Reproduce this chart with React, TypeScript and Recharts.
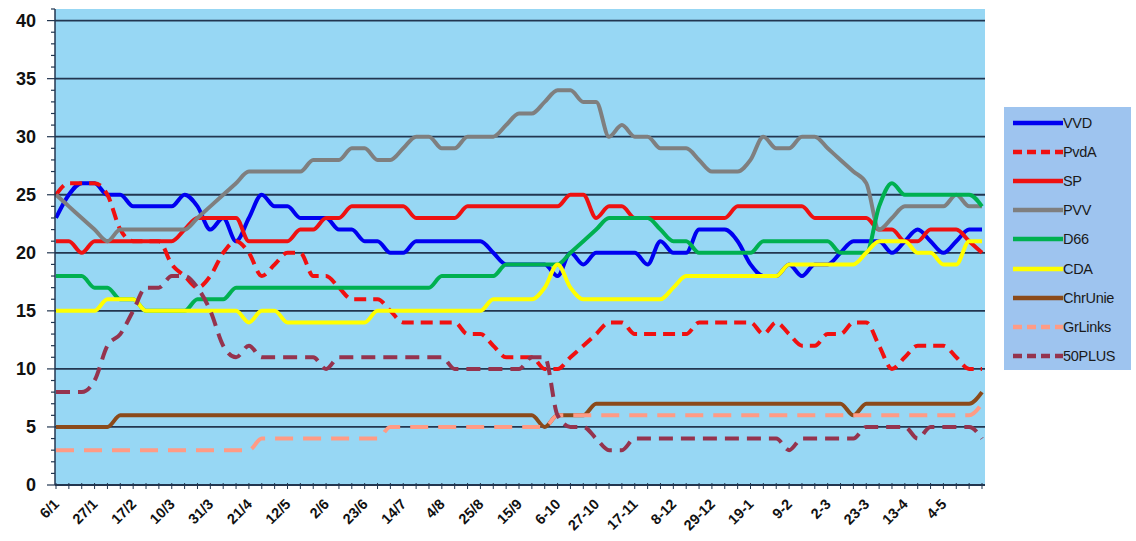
import React from 'react';
import { LineChart, Line, XAxis, YAxis, CartesianGrid, Legend, ReferenceLine } from 'recharts';

// week index 0..72, a label every third week
const tickLabels = ['6/1', '27/1', '17/2', '10/3', '31/3', '21/4', '12/5', '2/6', '23/6', '14/7', '4/8', '25/8',
  '15/9', '6-10', '27-10', '17-11', '8-12', '29-12', '19-1', '9-2', '2-3', '23-3', '13-4', '4-5'];

const vvd = [23, 25, 26, 26, 25, 25, 24, 24, 24, 24, 25, 24, 22, 23, 21, 23, 25, 24, 24, 23,
  23, 23, 22, 22, 21, 21, 20, 20, 21, 21, 21, 21, 21, 21, 20, 19, 19, 19, 19, 18,
  20, 19, 20, 20, 20, 20, 19, 21, 20, 20, 22, 22, 22, 21, 19, 18, 18, 19, 18, 19,
  19, 20, 21, 21, 21, 20, 21, 22, 21, 20, 21, 22, 22];
const pvda = [25, 26, 26, 26, 25, 22, 21, 21, 21, 19, 18, 17, 18, 20, 21, 20, 18, 19, 20, 20,
  18, 18, 17, 16, 16, 16, 15, 14, 14, 14, 14, 14, 13, 13, 12, 11, 11, 11, 10, 10,
  11, 12, 13, 14, 14, 13, 13, 13, 13, 13, 14, 14, 14, 14, 14, 13, 14, 13, 12, 12,
  13, 13, 14, 14, 12, 10, 11, 12, 12, 12, 11, 10, 10];
const sp = [21, 21, 20, 21, 21, 21, 21, 21, 21, 21, 22, 23, 23, 23, 23, 21, 21, 21, 21, 22,
  22, 23, 23, 24, 24, 24, 24, 24, 23, 23, 23, 23, 24, 24, 24, 24, 24, 24, 24, 24,
  25, 25, 23, 24, 24, 23, 23, 23, 23, 23, 23, 23, 23, 24, 24, 24, 24, 24, 24, 23,
  23, 23, 23, 23, 22, 22, 21, 21, 22, 22, 22, 21, 20];
const pvv = [25, 24, 23, 22, 21, 22, 22, 22, 22, 22, 22, 23, 24, 25, 26, 27, 27, 27, 27, 27,
  28, 28, 28, 29, 29, 28, 28, 29, 30, 30, 29, 29, 30, 30, 30, 31, 32, 32, 33, 34,
  34, 33, 33, 30, 31, 30, 30, 29, 29, 29, 28, 27, 27, 27, 28, 30, 29, 29, 30, 30,
  29, 28, 27, 26, 22, 23, 24, 24, 24, 24, 25, 24, 24];
const d66 = [18, 18, 18, 17, 17, 16, 16, 15, 15, 15, 15, 16, 16, 16, 17, 17, 17, 17, 17, 17,
  17, 17, 17, 17, 17, 17, 17, 17, 17, 17, 18, 18, 18, 18, 18, 19, 19, 19, 19, 19,
  20, 21, 22, 23, 23, 23, 23, 22, 21, 21, 20, 20, 20, 20, 20, 21, 21, 21, 21, 21,
  21, 20, 20, 20, 24, 26, 25, 25, 25, 25, 25, 25, 24];
const cda = [15, 15, 15, 15, 16, 16, 16, 15, 15, 15, 15, 15, 15, 15, 15, 14, 15, 15, 14, 14,
  14, 14, 14, 14, 14, 15, 15, 15, 15, 15, 15, 15, 15, 15, 16, 16, 16, 16, 17, 19,
  17, 16, 16, 16, 16, 16, 16, 16, 17, 18, 18, 18, 18, 18, 18, 18, 18, 19, 19, 19,
  19, 19, 19, 20, 21, 21, 21, 20, 20, 19, 19, 21, 21];
const chrUnie = [5, 5, 5, 5, 5, 6, 6, 6, 6, 6, 6, 6, 6, 6, 6, 6, 6, 6, 6, 6,
  6, 6, 6, 6, 6, 6, 6, 6, 6, 6, 6, 6, 6, 6, 6, 6, 6, 6, 5, 6,
  6, 6, 7, 7, 7, 7, 7, 7, 7, 7, 7, 7, 7, 7, 7, 7, 7, 7, 7, 7,
  7, 7, 6, 7, 7, 7, 7, 7, 7, 7, 7, 7, 8];
const grLinks = [3, 3, 3, 3, 3, 3, 3, 3, 3, 3, 3, 3, 3, 3, 3, 3, 4, 4, 4, 4,
  4, 4, 4, 4, 4, 4, 5, 5, 5, 5, 5, 5, 5, 5, 5, 5, 5, 5, 5, 6,
  6, 6, 6, 6, 6, 6, 6, 6, 6, 6, 6, 6, 6, 6, 6, 6, 6, 6, 6, 6,
  6, 6, 6, 6, 6, 6, 6, 6, 6, 6, 6, 6, 7];
const plus50 = [8, 8, 8, 9, 12, 13, 15, 17, 17, 18, 18, 17, 15, 12, 11, 12, 11, 11, 11, 11,
  11, 10, 11, 11, 11, 11, 11, 11, 11, 11, 11, 10, 10, 10, 10, 10, 10, 11, 11, 6,
  5, 5, 4, 3, 3, 4, 4, 4, 4, 4, 4, 4, 4, 4, 4, 4, 4, 3, 4, 4,
  4, 4, 4, 5, 5, 5, 5, 4, 5, 5, 5, 5, 4];

const series = [
  { key: 'VVD', values: vvd, color: '#0000F0', dash: undefined },
  { key: 'PvdA', values: pvda, color: '#F01010', dash: '12 7' },
  { key: 'SP', values: sp, color: '#EE1111', dash: undefined },
  { key: 'PVV', values: pvv, color: '#7F7F7F', dash: undefined },
  { key: 'D66', values: d66, color: '#00B050', dash: undefined },
  { key: 'CDA', values: cda, color: '#FFFF00', dash: undefined },
  { key: 'ChrUnie', values: chrUnie, color: '#8B4A1A', dash: undefined },
  { key: 'GrLinks', values: grLinks, color: '#FF9B85', dash: '18 10' },
  { key: '50PLUS', values: plus50, color: '#95334E', dash: '14 8' },
];

const data = vvd.map((_, i) => {
  const row: any = { week: i };
  series.forEach((s) => { row[s.key] = s.values[i]; });
  return row;
});

const weeks = data.map((d) => d.week);
const yTicks = Array.from({ length: 42 }, (_, i) => i);
const gridValues = [5, 10, 15, 20, 25, 30, 35, 40];

const FONT = '"Liberation Sans", Arial, sans-serif';
const AXIS = '#223650';

const YTick = ({ x, y, payload }: any) => {
  const v = payload.value;
  const major = v % 5 === 0;
  return (
    <g>
      <line x1={x - (major ? 8 : 4)} x2={x} y1={y} y2={y} stroke={AXIS} strokeWidth={1.2} />
      {major && v <= 40 && (
        <text x={x - 19} y={y} dy={6} textAnchor="end" fontSize={18} fontWeight="bold" fontFamily={FONT} fill="#111">
          {v}
        </text>
      )}
    </g>
  );
};

const XTick = ({ x, y, payload }: any) => {
  const i = payload.value;
  const label = i % 3 === 0 ? tickLabels[i / 3] : '';
  return (
    <g>
      <line x1={x} x2={x} y1={y - 2} y2={y + 4} stroke={AXIS} strokeWidth={1} />
      {label && (
        <text x={x + 4} y={y + 20} transform={`rotate(-45 ${x + 4} ${y + 20})`} textAnchor="end"
          fontSize={14.5} fontWeight="bold" fontFamily={FONT} fill="#111">
          {label}
        </text>
      )}
    </g>
  );
};

const LegendBox = () => (
  <div style={{ width: 127, height: 262, background: '#9EC4EF', fontFamily: FONT, paddingTop: 1 }}>
    {series.map((s) => (
      <div key={s.key} style={{ height: 29.2, display: 'flex', alignItems: 'center' }}>
        <svg width={60} height={10} style={{ marginLeft: 9 }}>
          <line x1={0} x2={50} y1={5} y2={5} stroke={s.color} strokeWidth={4.5} strokeDasharray={s.dash ? '9 5' : undefined} />
        </svg>
        <span style={{ fontSize: 14.5, color: '#1a1a1a', marginLeft: -10, letterSpacing: -0.3 }}>{s.key}</span>
      </div>
    ))}
  </div>
);

export default function App() {
  return (
    <div style={{ position: 'absolute', left: 0, top: 0, background: '#fff' }}>
      <LineChart width={1136} height={541} data={data} margin={{ top: 9, right: 151, bottom: 0, left: 0 }}>
        <CartesianGrid fill="#97D7F4" fillOpacity={1} vertical={false} horizontal={false} />
        <XAxis
          dataKey="week"
          type="number"
          domain={[0, 72]}
          ticks={weeks}
          interval={0}
          height={56}
          padding={{ left: 1, right: 3 }}
          tickSize={0}
          tickMargin={0}
          tick={<XTick />}
          axisLine={{ stroke: AXIS, strokeWidth: 1.8 }}
          tickLine={false}
        />
        <YAxis
          type="number"
          domain={[0, 41]}
          ticks={yTicks}
          interval={0}
          width={55}
          tickSize={0}
          tickMargin={0}
          tick={<YTick />}
          axisLine={{ stroke: AXIS, strokeWidth: 1.5 }}
          tickLine={false}
        />
        {gridValues.map((v) => (
          <ReferenceLine key={v} y={v} stroke={AXIS} strokeWidth={1.8} />
        ))}
        {series.map((s) => (
          <Line
            key={s.key}
            dataKey={s.key}
            type="monotone"
            stroke={s.color}
            strokeWidth={4}
            strokeDasharray={s.dash}
            dot={false}
            activeDot={false}
            isAnimationActive={false}
          />
        ))}
        <Legend
          layout="vertical"
          align="center"
          verticalAlign="middle"
          content={<LegendBox />}
          wrapperStyle={{ left: 1004, top: 107, width: 127, height: 262 }}
        />
      </LineChart>
    </div>
  );
}
